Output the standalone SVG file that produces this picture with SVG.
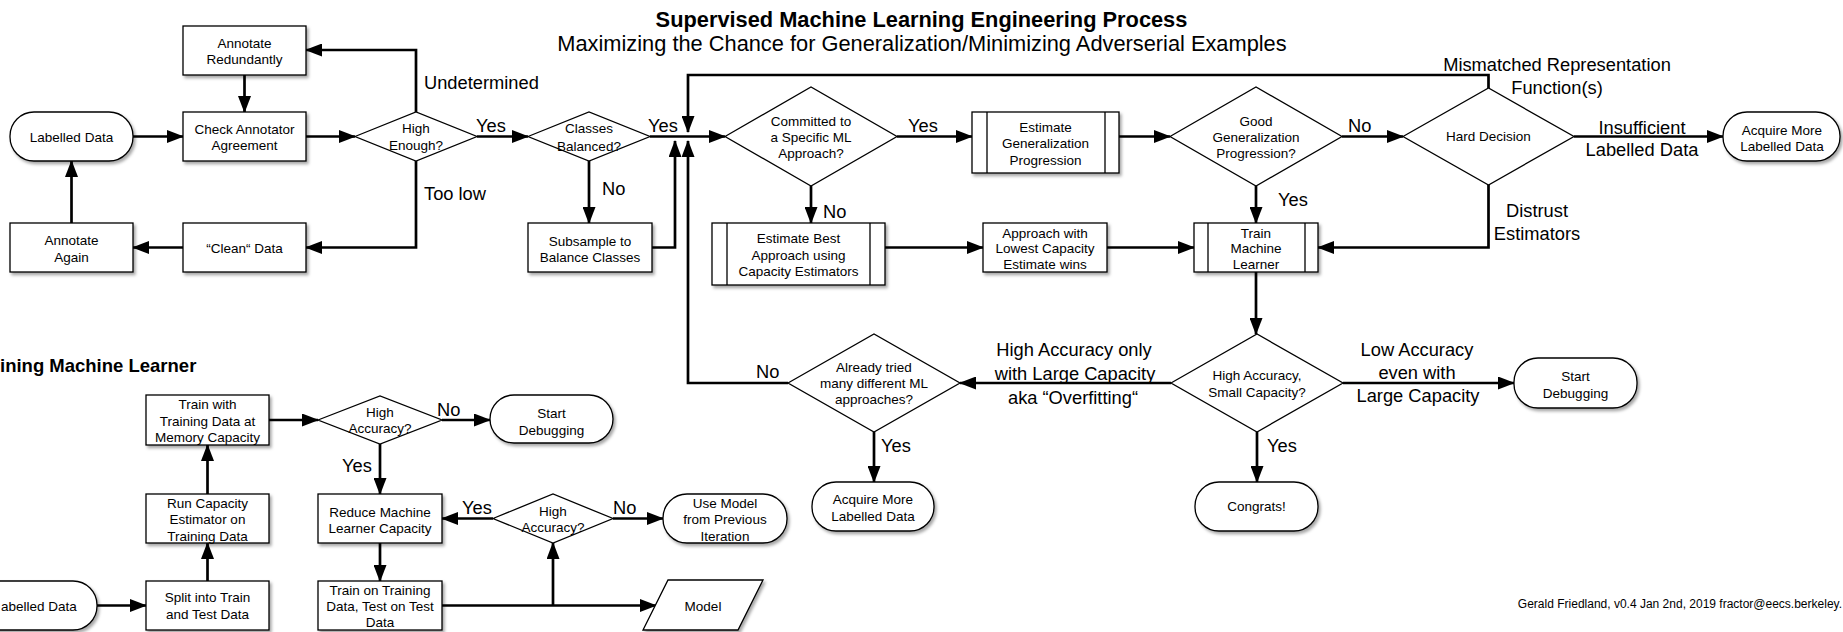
<svg xmlns="http://www.w3.org/2000/svg" width="1843" height="632" viewBox="0 0 1843 632">
<style>
text{font-family:"Liberation Sans",Arial,Helvetica,sans-serif;fill:#000}
.n{fill:#fff;stroke:#000;stroke-width:1.3}
.s{filter:url(#sh)}
.v{fill:none;stroke:#000;stroke-width:1.3}
.t{font-size:13.5px;text-anchor:middle}
.l{font-size:18.3px}
.m{text-anchor:middle}
.c{fill:none;stroke:#000;stroke-width:2.7;marker-end:url(#ah)}
.ttl{font-size:21.8px;text-anchor:middle}
</style>
<defs>
<marker id="ah" markerWidth="17" markerHeight="13" refX="16" refY="6.5" orient="auto" markerUnits="userSpaceOnUse"><path d="M0,0 L17,6.5 L0,13 z" fill="#000"/></marker>
<filter id="sh" x="-10%" y="-10%" width="130%" height="140%"><feDropShadow dx="2" dy="2.5" stdDeviation="1.4" flood-color="#000" flood-opacity="0.35"/></filter>
</defs>
<rect x="0" y="0" width="1843" height="632" fill="#fff"/>

<g id="title">
<text class="ttl" x="921.5" y="27" font-weight="bold">Supervised Machine Learning Engineering Process</text>
<text class="ttl" x="922" y="51">Maximizing the Chance for Generalization/Minimizing Adverserial Examples</text>
</g>
<g id="subtitle-training"><text x="0" y="372" font-size="18.5" font-weight="bold">ining Machine Learner</text></g>
<g id="credit"><text x="1842" y="608" font-size="12" text-anchor="end">Gerald Friedland, v0.4 Jan 2nd, 2019 fractor@eecs.berkeley.</text></g>

<g id="connectors">
<path class="c" d="M133,136.5 H183"/>
<path class="c" d="M244.5,75 V112"/>
<path class="c" d="M306,136.5 H355"/>
<path class="c" d="M416,112 V50 H306"/>
<path class="c" d="M416,161 V247.5 H306"/>
<path class="c" d="M183,247.5 H133"/>
<path class="c" d="M71.5,223 V161"/>
<path class="c" d="M477,136.5 H528"/>
<path class="c" d="M650,136.5 H725"/>
<path class="c" d="M589,160 V223"/>
<path class="c" d="M652,247.5 H675 V141"/>
<path class="c" d="M1488.5,88 V75 H688 V132"/>
<path class="c" d="M788,383 H688 V141"/>
<path class="c" d="M897,136.5 H972"/>
<path class="c" d="M811,186 V223"/>
<path class="c" d="M885,247.5 H983"/>
<path class="c" d="M1107,247.5 H1194"/>
<path class="c" d="M1119,136.5 H1170"/>
<path class="c" d="M1342,136.5 H1403"/>
<path class="c" d="M1256,186 V223"/>
<path class="c" d="M1488.5,185 V247.5 H1318"/>
<path class="c" d="M1574,136.5 H1723"/>
<path class="c" d="M1256,272 V334"/>
<path class="c" d="M1171,383 H960"/>
<path class="c" d="M1343,383 H1514"/>
<path class="c" d="M1257,432 V482"/>
<path class="c" d="M874,432 V482"/>
<path class="c" d="M97,605.5 H146"/>
<path class="c" d="M207.5,581 V543"/>
<path class="c" d="M207.5,494 V445"/>
<path class="c" d="M269,420 H318"/>
<path class="c" d="M442,420 H490"/>
<path class="c" d="M380,444 V494"/>
<path class="c" d="M380,543 V581"/>
<path class="c" d="M442,605.5 H656"/>
<path class="c" d="M553,605.5 V543"/>
<path class="c" d="M493,518.5 H442"/>
<path class="c" d="M613,518.5 H663"/>
</g>

<g id="edge-labels" class="l">
<text x="424" y="89">Undetermined</text>
<text x="424" y="200">Too low</text>
<text x="476" y="132">Yes</text>
<text x="648" y="132">Yes</text>
<text x="602" y="195">No</text>
<text x="908" y="132">Yes</text>
<text x="823" y="218">No</text>
<text x="1348" y="132">No</text>
<text x="1278" y="205.5">Yes</text>
<text class="m" x="1557" y="71">Mismatched Representation</text>
<text class="m" x="1557" y="94">Function(s)</text>
<text class="m" x="1642" y="134">Insufficient</text>
<text class="m" x="1642" y="155.5">Labelled Data</text>
<text class="m" x="1537" y="217">Distrust</text>
<text class="m" x="1537" y="239.5">Estimators</text>
<text class="m" x="1074" y="356">High Accuracy only</text>
<text class="m" x="1075" y="379.5">with Large Capacity</text>
<text class="m" x="1073" y="403.5">aka “Overfitting“</text>
<text x="756" y="378">No</text>
<text x="881" y="452">Yes</text>
<text x="1267" y="452">Yes</text>
<text class="m" x="1417" y="355.5">Low Accuracy</text>
<text class="m" x="1417" y="378.5">even with</text>
<text class="m" x="1418" y="401.5">Large Capacity</text>
<text x="437" y="416">No</text>
<text x="342" y="472">Yes</text>
<text x="462" y="513.5">Yes</text>
<text x="613" y="513.5">No</text>
</g>

<g id="labelled-data"><rect class="n s" x="10" y="112" width="123" height="49" rx="24"/><text class="t" x="71.5" y="142">Labelled Data</text></g>
<g id="annotate-redundantly"><rect class="n s" x="183" y="26" width="123" height="49"/><text class="t" x="244.5"><tspan x="244.5" y="48">Annotate</tspan><tspan x="244.5" y="64">Redundantly</tspan></text></g>
<g id="check-agreement"><rect class="n s" x="183" y="112" width="123" height="49"/><text class="t"><tspan x="244.5" y="134">Check Annotator</tspan><tspan x="244.5" y="150">Agreement</tspan></text></g>
<g id="annotate-again"><rect class="n s" x="10" y="223" width="123" height="49"/><text class="t"><tspan x="71.5" y="245">Annotate</tspan><tspan x="71.5" y="261.5">Again</tspan></text></g>
<g id="clean-data"><rect class="n s" x="183" y="223" width="123" height="49"/><text class="t" x="244.5" y="253">“Clean“ Data</text></g>
<g id="high-enough"><polygon class="n" points="355,136.5 416,112 477,136.5 416,161"/><text class="t"><tspan x="416" y="133">High</tspan><tspan x="416" y="149.5">Enough?</tspan></text></g>
<g id="classes-balanced"><polygon class="n" points="528,136.5 589,112 650,136.5 589,161"/><text class="t"><tspan x="589" y="133">Classes</tspan><tspan x="589" y="150.5">Balanced?</tspan></text></g>
<g id="subsample"><rect class="n s" x="528" y="223" width="124" height="49"/><text class="t"><tspan x="590" y="245.5">Subsample to</tspan><tspan x="590" y="261.5">Balance Classes</tspan></text></g>
<g id="committed"><polygon class="n" points="725,136.5 811,87 897,136.5 811,186"/><text class="t"><tspan x="811" y="125.5">Committed to</tspan><tspan x="811" y="142">a Specific ML</tspan><tspan x="811" y="158">Approach?</tspan></text></g>
<g id="estimate-best"><rect class="n s" x="712" y="223" width="173" height="62"/><path class="v" d="M727,223 V285 M870,223 V285"/><text class="t"><tspan x="798.5" y="243">Estimate Best</tspan><tspan x="798.5" y="259.5">Approach using</tspan><tspan x="798.5" y="276">Capacity Estimators</tspan></text></g>
<g id="estimate-generalization"><rect class="n s" x="972" y="112" width="147" height="61"/><path class="v" d="M987,112 V173 M1105,112 V173"/><text class="t"><tspan x="1045.5" y="132">Estimate</tspan><tspan x="1045.5" y="148">Generalization</tspan><tspan x="1045.5" y="164.5">Progression</tspan></text></g>
<g id="good-generalization"><polygon class="n" points="1170,136.5 1256,87 1342,136.5 1256,186"/><text class="t"><tspan x="1256" y="125.5">Good</tspan><tspan x="1256" y="141.5">Generalization</tspan><tspan x="1256" y="158">Progression?</tspan></text></g>
<g id="hard-decision"><polygon class="n" points="1403,136.5 1488.5,88 1574,136.5 1488.5,185"/><text class="t" x="1488.5" y="141">Hard Decision</text></g>
<g id="acquire-more-top"><rect class="n s" x="1723" y="112" width="117" height="49" rx="24"/><text class="t"><tspan x="1782" y="134.5">Acquire More</tspan><tspan x="1782" y="150.5">Labelled Data</tspan></text></g>
<g id="approach-lowest"><rect class="n s" x="983" y="223" width="124" height="49"/><text class="t"><tspan x="1045" y="237.5">Approach with</tspan><tspan x="1045" y="253">Lowest Capacity</tspan><tspan x="1045" y="269">Estimate wins</tspan></text></g>
<g id="train-machine-learner"><rect class="n s" x="1194" y="223" width="124" height="49"/><path class="v" d="M1208,223 V272 M1305,223 V272"/><text class="t"><tspan x="1256" y="237.5">Train</tspan><tspan x="1256" y="253">Machine</tspan><tspan x="1256" y="269">Learner</tspan></text></g>
<g id="already-tried"><polygon class="n" points="788,383 874,334 960,383 874,432"/><text class="t"><tspan x="874" y="371.5">Already tried</tspan><tspan x="874" y="388">many different ML</tspan><tspan x="874" y="404">approaches?</tspan></text></g>
<g id="high-accuracy-small"><polygon class="n" points="1171,383 1257,334 1343,383 1257,432"/><text class="t"><tspan x="1257" y="380">High Accuracy,</tspan><tspan x="1257" y="396.5">Small Capacity?</tspan></text></g>
<g id="start-debugging-right"><rect class="n s" x="1514" y="358" width="123" height="50" rx="24"/><text class="t"><tspan x="1575.5" y="380.5">Start</tspan><tspan x="1575.5" y="397.5">Debugging</tspan></text></g>
<g id="congrats"><rect class="n s" x="1195" y="482" width="123" height="49" rx="24"/><text class="t" x="1256.5" y="511">Congrats!</text></g>
<g id="acquire-more-bottom"><rect class="n s" x="812" y="482" width="122" height="49" rx="24"/><text class="t"><tspan x="873" y="503.5">Acquire More</tspan><tspan x="873" y="520.5">Labelled Data</tspan></text></g>

<g id="labelled-data-2"><rect class="n s" x="-28" y="581" width="125" height="49" rx="24"/><text x="1" y="610.5" font-size="13.5">abelled Data</text></g>
<g id="split"><rect class="n s" x="146" y="581" width="123" height="49"/><text class="t"><tspan x="207.5" y="602">Split into Train</tspan><tspan x="207.5" y="618.5">and Test Data</tspan></text></g>
<g id="run-capacity"><rect class="n s" x="146" y="494" width="123" height="49"/><text class="t"><tspan x="207.5" y="508">Run Capacity</tspan><tspan x="207.5" y="524">Estimator on</tspan><tspan x="207.5" y="540.5">Training Data</tspan></text></g>
<g id="train-with"><rect class="n s" x="146" y="395" width="123" height="50"/><text class="t"><tspan x="207.5" y="408.5">Train with</tspan><tspan x="207.5" y="425.5">Training Data at</tspan><tspan x="207.5" y="442">Memory Capacity</tspan></text></g>
<g id="high-accuracy-1"><polygon class="n" points="318,420 380,396 442,420 380,444"/><text class="t"><tspan x="380" y="417">High</tspan><tspan x="380" y="433">Accuracy?</tspan></text></g>
<g id="start-debugging-left"><rect class="n s" x="490" y="395" width="123" height="48" rx="24"/><text class="t"><tspan x="551.5" y="417.5">Start</tspan><tspan x="551.5" y="434.5">Debugging</tspan></text></g>
<g id="reduce"><rect class="n s" x="318" y="494" width="124" height="49"/><text class="t"><tspan x="380" y="516.5">Reduce Machine</tspan><tspan x="380" y="532.5">Learner Capacity</tspan></text></g>
<g id="train-on-training"><rect class="n s" x="318" y="581" width="124" height="49"/><text class="t"><tspan x="380" y="594.5">Train on Training</tspan><tspan x="380" y="611">Data, Test on Test</tspan><tspan x="380" y="627">Data</tspan></text></g>
<g id="high-accuracy-2"><polygon class="n" points="493,518.5 553,494 613,518.5 553,543"/><text class="t"><tspan x="553" y="515.5">High</tspan><tspan x="553" y="531.5">Accuracy?</tspan></text></g>
<g id="use-model"><rect class="n s" x="663" y="494" width="124" height="49" rx="24"/><text class="t"><tspan x="725" y="508">Use Model</tspan><tspan x="725" y="524">from Previous</tspan><tspan x="725" y="540.5">Iteration</tspan></text></g>
<g id="model"><polygon class="n s" points="668,580 763,580 738,630 643,630"/><text class="t" x="703" y="611">Model</text></g>
</svg>
